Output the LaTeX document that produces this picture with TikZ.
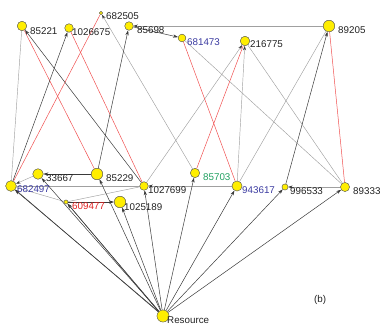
\documentclass[tikz,border=0pt]{standalone}
\usepackage{fontspec}
\setmainfont{Liberation Sans}
\usetikzlibrary{arrows.meta}
\definecolor{nodefill}{HTML}{FFEE00}
\definecolor{nodeline}{HTML}{666666}
\definecolor{darkedge}{HTML}{3A3A3A}
\definecolor{grayedge}{HTML}{A0A0A0}
\definecolor{rededge}{HTML}{F05050}
\definecolor{labblue}{HTML}{3A3AA0}
\definecolor{labred}{HTML}{E02020}
\definecolor{labgreen}{HTML}{20A060}
\definecolor{labblack}{HTML}{222222}
\tikzset{
  vtx/.style={circle,fill=nodefill,draw=nodeline,line width=0.4pt,inner sep=0pt,minimum size=#1},
  lab/.style={anchor=west,inner sep=0pt,text=labblack,font=\fontsize{9.8}{10}\selectfont},
  dk/.style={draw=darkedge,line width=0.5pt,-{Stealth[length=5pt,width=3.2pt]}},
  dkn/.style={draw=darkedge,line width=0.5pt},
  gy/.style={draw=grayedge,line width=0.45pt},
  gya/.style={draw=grayedge,line width=0.45pt,-{Stealth[length=4.5pt,width=3pt,color=darkedge]}},
  rd/.style={draw=rededge,line width=0.5pt},
}
\begin{document}
\begin{tikzpicture}[x=1pt,y=-1pt]
\useasboundingbox (0,0) rectangle (390,334);
% edges first (drawn under nodes) -- need nodes defined: use coordinates via nodes placed first on a background-free pass
\node[vtx=9.4pt] (n85221) at (22,26) {};
\node[vtx=8.4pt] (n1026675) at (69,28) {};
\node[vtx=3.4pt] (n682505) at (101,13) {};
\node[vtx=8.4pt] (n85698) at (129,26) {};
\node[vtx=7.6pt] (n681473) at (182,38) {};
\node[vtx=9.4pt] (n216775) at (245,41) {};
\node[vtx=11.4pt] (n89205) at (329,26) {};
\node[vtx=10.6pt] (n682497) at (11,186) {};
\node[vtx=10.4pt] (n33667) at (38,174) {};
\node[vtx=11.4pt] (n85229) at (97,174) {};
\node[vtx=8.4pt] (n1027699) at (144,186) {};
\node[vtx=4pt] (n609477) at (66,202) {};
\node[vtx=11.4pt] (n1025189) at (120,202) {};
\node[vtx=9.2pt] (n85703) at (195,173) {};
\node[vtx=10pt] (n943617) at (237,186) {};
\node[vtx=6pt] (n996533) at (285,187) {};
\node[vtx=9pt] (n89333) at (345,187) {};
\node[vtx=12pt] (nRes) at (163,316) {};

% gray edges
\draw[gy] (n682497) -- (n85221);
\draw[gya] (n85703) -- (n682505);
\draw[gya] (n89205) -- (n85698);
\draw[gy] (n681473) -- (n89333);
\draw[gy] (n216775) -- (n89333);
\draw[gya] (n943617) -- (n216775);
\draw[gya] (n1027699) -- (n216775);
\draw[gy] (n943617) -- (n89205);
\draw[gya] (n89333) -- (n996533);
\draw[gya] (n943617) -- (n1027699);
\draw[gy] (n682497) -- (n1027699);
\draw[gya] (n33667) -- (n682497);
\draw[gy] (n609477) -- (n1027699);
\draw[gy] (n682497) -- (n609477);

% red edges
\draw[rd] (n682497) -- (n682505);
\draw[rd] (n85221) -- (n85229);
\draw[rd] (n1026675) -- (n1027699);
\draw[rd] (n681473) -- (n943617);
\draw[rd] (n85703) -- (n216775);
\draw[rd] (n89205) -- (n89333);

% dark edges
\draw[dk] (n682497) -- (n1026675);
\draw[dk] (n1027699) -- (n85221);
\draw[dk] (n85229) -- (n85698);
\draw[dk] (n85698) -- (n681473);
\draw[dk] (n996533) -- (n89205);
\draw[dk] (n85229) -- (n33667);
\draw[dk] (n609477) -- (n1025189);

% edges from Resource
\draw[dk] (nRes) -- (n682497);
\draw[dk] (nRes.north west) -- (n682497.south east);
\draw[dk] (nRes) -- (n33667);
\draw[dk] (nRes) -- (n609477);
\draw[dk] (nRes.north west) -- (n609477.south east);
\draw[dk] (nRes) -- (n85229);
\draw[dk] (nRes) -- (n1025189);
\draw[dk] (nRes) -- (n1027699);
\draw[dk] (nRes) -- (n85703);
\draw[dk] (nRes) -- (n943617);
\draw[dk] (nRes) -- (n996533);
\draw[dk] (nRes) -- (n89333);

% redraw nodes on top
\foreach \n/\s in {n85221/9.4pt,n1026675/8.4pt,n682505/3.4pt,n85698/8.4pt,n681473/7.6pt,n216775/9.4pt,n89205/11.4pt,n682497/10.6pt,n33667/10.4pt,n85229/11.4pt,n1027699/8.4pt,n609477/4pt,n1025189/11.4pt,n85703/9.2pt,n943617/10pt,n996533/6pt,n89333/9pt,nRes/12pt}
  \node[vtx=\s] at (\n) {};

% labels
\node[lab] (l85221) at (30,31) {85221};
\node[lab] (l1026675) at (72,32) {1026675};
\node[lab] (l682505) at (106,16) {682505};
\node[lab] (l85698) at (137,30) {85698};
\node[lab,text=labblue] (l681473) at (187,42) {681473};
\node[lab] (l216775) at (250,44) {216775};
\node[lab] (l89205) at (338,30) {89205};
\node[lab,text=labblue] (l682497) at (17,189) {682497};
\node[lab] (l33667) at (46,178) {33667};
\node[lab] (l85229) at (106,178) {85229};
\node[lab] (l1027699) at (148,190) {1027699};
\node[lab,text=labred] (l609477) at (72,206) {609477};
\node[lab] (l1025189) at (124,207) {1025189};
\node[lab,text=labgreen] (l85703) at (203,177) {85703};
\node[lab,text=labblue] (l943617) at (242,190) {943617};
\node[lab] (l996533) at (290,191) {996533};
\node[lab] (l89333) at (353,191) {89333};
\node[lab] (lRes) at (167,320) {Resource};
\node[lab] (lb) at (314,300) {(b)};
\end{tikzpicture}
\end{document}
